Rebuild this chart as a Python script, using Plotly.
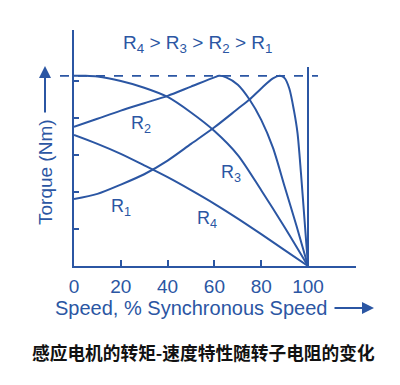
import plotly.graph_objects as go

# Data (speed in % synchronous speed, torque in arbitrary units)
speed_r1 = [0, 10, 20, 30, 40, 50, 60, 70, 75, 80, 85, 88, 90, 92, 94, 95.5, 97, 98.5, 100]
torque_r1 = [1.81, 1.95, 2.2, 2.48, 2.85, 3.3, 3.75, 4.25, 4.5, 4.8, 5.07, 5.14, 5.08, 4.8, 4.2, 3.6, 2.5, 1.25, 0]

speed_r2 = [0, 10, 20, 30, 40, 50, 60, 62, 65, 70, 75, 80, 85, 90, 95, 100]
torque_r2 = [3.76, 3.98, 4.2, 4.4, 4.6, 4.85, 5.1, 5.14, 5.1, 4.9, 4.5, 3.95, 3.2, 2.15, 1.1, 0]

speed_r3 = [0, 5, 10, 20, 30, 40, 50, 60, 70, 80, 90, 100]
torque_r3 = [5.14, 5.14, 5.12, 5.0, 4.82, 4.57, 4.15, 3.65, 3.0, 2.05, 1.05, 0]

speed_r4 = [0, 10, 20, 30, 40, 50, 60, 70, 80, 90, 100]
torque_r4 = [3.54, 3.3, 3.03, 2.72, 2.4, 2.05, 1.68, 1.28, 0.86, 0.43, 0]

x_ticks = [0, 20, 40, 60, 80, 100]
y_ticks = [1, 2, 3, 4, 5]
max_torque = 5.14
sync_speed = 100

title_text = "R<sub>4</sub> > R<sub>3</sub> > R<sub>2</sub> > R<sub>1</sub>"
x_title = "Speed, % Synchronous Speed"
y_title = "Torque (Nm)"
caption = "感应电机的转矩-速度特性随转子电阻的变化"

BLUE = "#2b56a3"
FONT = "Liberation Sans, Arial, sans-serif"

OFF = 8  # page body margin
W, H = 400 - OFF, 385 - OFF
ML, MR, MT, MB = 74 - OFF, 44, 30 - OFF, 119
PW, PH = W - ML - MR, H - MT - MB


def px(xp):
    return (xp - OFF - ML) / PW


def py(yp):
    return (H - MB - (yp - OFF)) / PH


fig = go.Figure()
for sx, ty in [(speed_r1, torque_r1), (speed_r2, torque_r2), (speed_r3, torque_r3), (speed_r4, torque_r4)]:
    fig.add_trace(go.Scatter(x=sx, y=ty, mode="lines",
                             line=dict(color=BLUE, width=2, shape="spline", smoothing=0.8),
                             hoverinfo="skip", showlegend=False))

# dashed max-torque line
fig.add_shape(type="line", xref="paper", yref="y", x0=px(60), x1=px(318),
              y0=max_torque, y1=max_torque, line=dict(color=BLUE, width=1.8, dash="dash"))
# synchronous speed vertical line
fig.add_shape(type="line", xref="x", yref="paper", x0=sync_speed, x1=sync_speed,
              y0=0, y1=py(67), line=dict(color=BLUE, width=2))

annotations = [
    dict(text=title_text, x=px(197), y=py(44), font_size=19),
    dict(text="R<sub>2</sub>", x=px(141), y=py(124)),
    dict(text="R<sub>3</sub>", x=px(231), y=py(173)),
    dict(text="R<sub>1</sub>", x=px(121), y=py(207)),
    dict(text="R<sub>4</sub>", x=px(207), y=py(219)),
    dict(text=x_title, x=px(191), y=py(308), font_size=20),
    dict(text=y_title, x=px(45), y=py(172), textangle=-90, font_size=19),
]
anns = []
for a in annotations:
    d = dict(xref="paper", yref="paper", showarrow=False, xanchor="center", yanchor="middle",
             font=dict(family=FONT, size=a.pop("font_size", 18), color=BLUE))
    d.update(a)
    anns.append(d)

# arrows
anns.append(dict(xref="paper", yref="paper", axref="pixel", ayref="pixel",
                 x=px(45), y=py(66), ax=0, ay=48, text="", showarrow=True,
                 arrowhead=2, arrowsize=1.2, arrowwidth=2, arrowcolor=BLUE))
anns.append(dict(xref="paper", yref="paper", axref="pixel", ayref="pixel",
                 x=px(374), y=py(308), ax=-41, ay=0, text="", showarrow=True,
                 arrowhead=2, arrowsize=1.2, arrowwidth=2, arrowcolor=BLUE))
# caption
anns.append(dict(xref="paper", yref="paper", x=px(203), y=py(352), text=caption, showarrow=False,
                 xanchor="center", yanchor="middle",
                 font=dict(family="Noto Sans CJK SC", size=17.7, color="#111111", weight="bold")))

fig.update_layout(
    width=W, height=H, margin=dict(l=ML, r=MR, t=MT, b=MB),
    paper_bgcolor="white", plot_bgcolor="white",
    annotations=anns, showlegend=False,
    xaxis=dict(range=[0, 120.5], showgrid=False, zeroline=False, showline=True,
               linecolor=BLUE, linewidth=2, ticks="inside", ticklen=6, tickwidth=2,
               tickcolor=BLUE, tickvals=x_ticks, ticktext=[str(v) for v in x_ticks],
               tickfont=dict(family=FONT, size=19, color=BLUE), ticklabelstandoff=2),
    yaxis=dict(range=[0, 6.38], showgrid=False, zeroline=False, showline=True,
               linecolor=BLUE, linewidth=2, ticks="inside", ticklen=5, tickwidth=2,
               tickcolor=BLUE, tickvals=y_ticks, showticklabels=False),
)

fig.write_html("out.html")
